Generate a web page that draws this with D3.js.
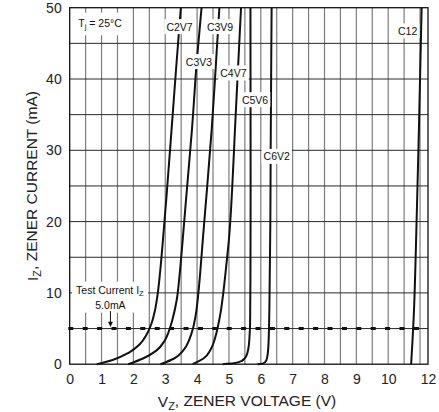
<!DOCTYPE html>
<html><head><meta charset="utf-8">
<script src="https://cdn.jsdelivr.net/npm/d3@7"></script>
<style>body{margin:0;background:#fff}svg{display:block}text{font-family:"Liberation Sans",Arial,Helvetica,sans-serif}</style>
</head><body><svg id="c" width="439" height="412"></svg>
<script>
// ---- data ----
const xTickValues = [0,1,2,3,4,5,6,7,8,9,10,11.25];
const xTickLabels = ["0","1","2","3","4","5","6","7","8","9","10","12"];
const yTickValues = [0,10,20,30,40,50];
const yTickLabels = ["0","10","20","30","40","50"];
const seriesNames = ["C2V7","C3V3","C3V9","C4V7","C5V6","C6V2","C12"];
const c2v7 = [[0.85,0],[1.35,0.6],[1.85,1.6],[2.2,2.8],[2.42,4.2],[2.56,5.6],[2.67,7.4],[2.76,9.8],[2.84,13],[2.91,16.5],[3.03,23],[3.2,33],[3.35,42],[3.49,50]];
const c3v3 = [[1.84,0],[2.3,0.8],[2.72,1.9],[2.98,3.3],[3.12,4.7],[3.24,6.5],[3.36,9],[3.45,12.5],[3.53,16.5],[3.66,23.5],[3.84,33],[3.99,42.5],[4.14,50]];
const c3v9 = [[2.85,0],[3.28,0.8],[3.58,2],[3.76,3.5],[3.87,5],[3.96,7],[4.04,10],[4.11,13.5],[4.18,17.5],[4.3,24],[4.46,33],[4.59,42],[4.7,50]];
const c4v7 = [[3.86,0],[4.2,0.8],[4.43,2.1],[4.56,3.6],[4.64,5],[4.74,7.3],[4.83,10.3],[4.92,14],[5.0,17.5],[5.1,24.5],[5.19,33],[5.29,42],[5.38,50]];
const c5v6 = [[4.8,0],[5.15,0.12],[5.4,0.45],[5.54,1.1],[5.61,2.2],[5.645,3.8],[5.665,6],[5.675,12],[5.68,25],[5.675,50]];
const c6v2 = [[5.9,0],[6.08,0.12],[6.17,0.5],[6.22,1.5],[6.245,3.2],[6.26,5.5],[6.28,12],[6.3,20],[6.31,30],[6.34,50]];
const c12  = [[10.72,0],[10.76,3],[10.8,6.5],[10.88,18],[10.96,32],[11.05,50]];
const seriesValues = [c2v7,c3v3,c3v9,c4v7,c5v6,c6v2,c12];
const testCurrent = 5.0;
const tempLabel = "25°C";
// ---- annotation placement (data coords) ----
const labelV = [3.45,4.06,4.72,5.14,5.82,6.50,10.61];
const labelI = [47.3,42.4,47.3,40.8,37.05,29.1,46.7];

// ---- layout ----
const svg = d3.select("#c");
svg.append("rect").attr("width",439).attr("height",412).attr("fill","#fff");
const x = d3.scaleLinear().domain([0, xTickValues[xTickValues.length-1]]).range([69.7, 428]);
const y = d3.scaleLinear().domain([0, 50]).range([364.2, 7.7]);

// grid
const g = svg.append("g");
g.selectAll(".vg").data(d3.range(0.5, 11.01, 0.5)).join("line")
  .attr("x1", d=>x(d)).attr("x2", d=>x(d)).attr("y1", y(0)).attr("y2", y(50))
  .attr("stroke", "#7d7d7d").attr("stroke-width", 1.2);
g.selectAll(".hg").data(d3.range(5, 46, 5)).join("line")
  .attr("x1", x(0)).attr("x2", x.range()[1]).attr("y1", d=>y(d)).attr("y2", d=>y(d))
  .attr("stroke", "#2a2a2a").attr("stroke-width", 1);

// test current dashed line
svg.append("line").attr("x1", x(0)-1.4).attr("x2", x.range()[1]).attr("y1", y(testCurrent)).attr("y2", y(testCurrent))
  .attr("stroke", "#111").attr("stroke-width", 3).attr("stroke-dasharray", "5 9.4");

// curves
const line = d3.line().x(d=>x(d[0])).y(d=>y(d[1])).curve(d3.curveMonotoneY);
svg.selectAll(".curve").data(seriesValues).join("path")
  .attr("d", line).attr("fill", "none").attr("stroke", "#111").attr("stroke-width", 2);

// labels with white boxes
function boxedText(parent, build, pad) {
  const grp = parent.append("g");
  const r = grp.append("rect").attr("fill", "#fff");
  const t = build(grp);
  const b = grp.node().getBBox();
  r.attr("x", b.x - pad[0]).attr("y", b.y - pad[1]).attr("width", b.width + 2*pad[0]).attr("height", b.height + 2*pad[1]);
  return grp;
}
seriesNames.forEach((n, i) => {
  boxedText(svg, grp => grp.append("text").attr("x", x(labelV[i])).attr("y", y(labelI[i])).attr("dy", "0.35em")
    .attr("text-anchor", "middle").attr("font-size", 10.5).attr("fill", "#111").text(n), [2, 1.5]);
});

// Tj label
boxedText(svg, grp => {
  const t = grp.append("text").attr("x", x(0.27)).attr("y", y(47.8)).attr("dy", "0.35em").attr("font-size", 10.5).attr("fill", "#111");
  t.append("tspan").text("T");
  t.append("tspan").attr("font-size", 7.5).attr("dy", "0.3em").text("j");
  t.append("tspan").attr("dy", "-0.25em").text(" = " + tempLabel);
  return t;
}, [4, 4]);

// Test current label
boxedText(svg, grp => {
  const t1 = grp.append("text").attr("x", x(0.2)).attr("y", y(10.4)).attr("dy", "0.35em").attr("font-size", 10.5).attr("fill", "#111");
  t1.append("tspan").text("Test Current I");
  t1.append("tspan").attr("font-size", 7.5).attr("dy", "0.3em").text("Z");
  grp.append("text").attr("x", x(1.28)).attr("y", y(8.3)).attr("dy", "0.35em").attr("text-anchor", "middle")
    .attr("font-size", 10.5).attr("fill", "#111").text(testCurrent.toFixed(1) + "mA");
  return t1;
}, [4, 2]);
// arrow
const ax = x(1.28);
svg.append("line").attr("x1", ax).attr("x2", ax).attr("y1", y(7.45)).attr("y2", y(5.9)).attr("stroke", "#111").attr("stroke-width", 1);
svg.append("path").attr("d", `M${ax-2.5},${y(5.95)}L${ax+2.5},${y(5.95)}L${ax},${y(testCurrent)-1.5}Z`).attr("fill", "#111");

// frame
svg.append("rect").attr("x", x(0)).attr("y", y(50)).attr("width", x.range()[1]-x(0)).attr("height", y(0)-y(50))
  .attr("fill", "none").attr("stroke", "#111").attr("stroke-width", 1.3);

// axes
const xa = svg.append("g").attr("transform", `translate(0,${y(0)})`)
  .call(d3.axisBottom(x).tickValues(xTickValues).tickFormat((d,i)=>xTickLabels[i]).tickSize(0).tickPadding(10));
xa.select(".domain").remove();
xa.selectAll("text").attr("font-size", 14).attr("fill", "#222").attr("font-family", "Liberation Sans, Arial, sans-serif");
const ya = svg.append("g").attr("transform", `translate(${x(0)},0)`)
  .call(d3.axisLeft(y).tickValues(yTickValues).tickFormat((d,i)=>yTickLabels[i]).tickSize(0).tickPadding(8));
ya.select(".domain").remove();
ya.selectAll("text").attr("font-size", 14).attr("fill", "#222").attr("font-family", "Liberation Sans, Arial, sans-serif");

// titles
const xt = svg.append("text").attr("x", 247).attr("y", 407).attr("text-anchor", "middle").attr("font-size", 15.5).attr("fill", "#222");
xt.append("tspan").text("V");
xt.append("tspan").attr("font-size", 11).attr("dy", "0.3em").text("Z");
xt.append("tspan").attr("dy", "-0.3em").text(", ZENER VOLTAGE (V)");
const yt = svg.append("text").attr("transform", "translate(38,186) rotate(-90)").attr("text-anchor", "middle").attr("font-size", 15.5).attr("fill", "#222");
yt.append("tspan").text("I");
yt.append("tspan").attr("font-size", 11).attr("dy", "0.3em").text("Z");
yt.append("tspan").attr("dy", "-0.3em").text(", ZENER CURRENT (mA)");
</script></body></html>
